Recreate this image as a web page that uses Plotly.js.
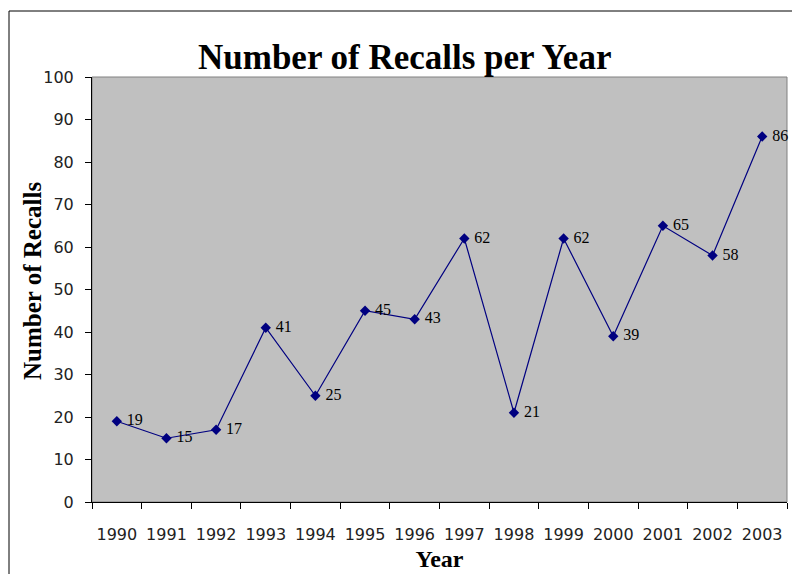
<!DOCTYPE html>
<html>
<head>
<meta charset="utf-8">
<script src="https://cdn.plot.ly/plotly-3.0.1.min.js"></script>
<style>html,body{margin:0;padding:0;background:#fff}#chart{width:792px;height:574px}</style>
</head>
<body>
<div id="chart"></div>
<script>
const years = ["1990","1991","1992","1993","1994","1995","1996","1997","1998","1999","2000","2001","2002","2003"];
const recalls = [19,15,17,41,25,45,43,62,21,62,39,65,58,86];
const yTicks = [0,10,20,30,40,50,60,70,80,90,100];

const trace = {
  type: "scatter",
  mode: "lines+markers+text",
  x: years,
  y: recalls,
  text: recalls.map(String),
  texttemplate: " %{text}",
  textposition: "middle right",
  textfont: {family: "Liberation Serif, Times New Roman, serif", size: 16, color: "#000"},
  line: {color: "#000080", width: 1.2},
  marker: {symbol: "diamond", size: 8, color: "#000080"},
  cliponaxis: false,
  hoverinfo: "skip"
};

const serif = "Liberation Serif, Times New Roman, serif";
const layout = {
  width: 792, height: 574,
  margin: {l: 92, r: 5, t: 77, b: 72},
  paper_bgcolor: "#ffffff",
  plot_bgcolor: "#c0c0c0",
  showlegend: false,
  title: {
    text: "<b>Number of Recalls per Year</b>",
    font: {family: serif, size: 35, color: "#000"},
    xref: "container", x: 0.511, xanchor: "center",
    yref: "container", y: 1 - 57/574, yanchor: "middle"
  },
  xaxis: {
    type: "category",
    range: [-0.5, 13.5],
    tickson: "boundaries",
    tickangle: 0,
    ticks: "outside", ticklen: 6, tickcolor: "#000", tickwidth: 1,
    showline: true, linecolor: "#000", linewidth: 1,
    showgrid: false, zeroline: false,
    tickfont: {family: "DejaVu Sans, sans-serif", size: 16, color: "#222"},
    ticklabelstandoff: 18,
    title: {text: "<b>Year</b>", font: {family: serif, size: 24, color: "#000"}, standoff: 6},
    fixedrange: true
  },
  yaxis: {
    range: [0, 100],
    tickvals: yTicks,
    ticktext: yTicks.map(String),
    ticks: "outside", ticklen: 6, tickcolor: "#000", tickwidth: 1,
    showline: true, linecolor: "#000", linewidth: 1,
    showgrid: false, zeroline: false,
    tickfont: {family: "DejaVu Sans, sans-serif", size: 16, color: "#222"},
    ticklabelstandoff: 8,
    fixedrange: true
  },
  annotations: [
    {text: "<b>Number of Recalls</b>", font: {family: serif, size: 25, color: "#000"},
     xref: "paper", yref: "paper", x: -60/695, y: (502-281)/425, xanchor: "center", yanchor: "middle",
     textangle: -90, showarrow: false}
  ],
  shapes: [
    {type: "rect", xref: "paper", yref: "paper", x0: 0, x1: 1, y0: 0, y1: 1, line: {color: "#808080", width: 1}, layer: "below"},
    {type: "rect", xref: "paper", yref: "paper", x0: -83/695, x1: 1.1, y0: -0.3, y1: 1 + 66/425, line: {color: "#000", width: 1}, fillcolor: "rgba(0,0,0,0)"}
  ]
};

Plotly.newPlot("chart", [trace], layout, {displayModeBar: false, staticPlot: true});
</script>
</body>
</html>
